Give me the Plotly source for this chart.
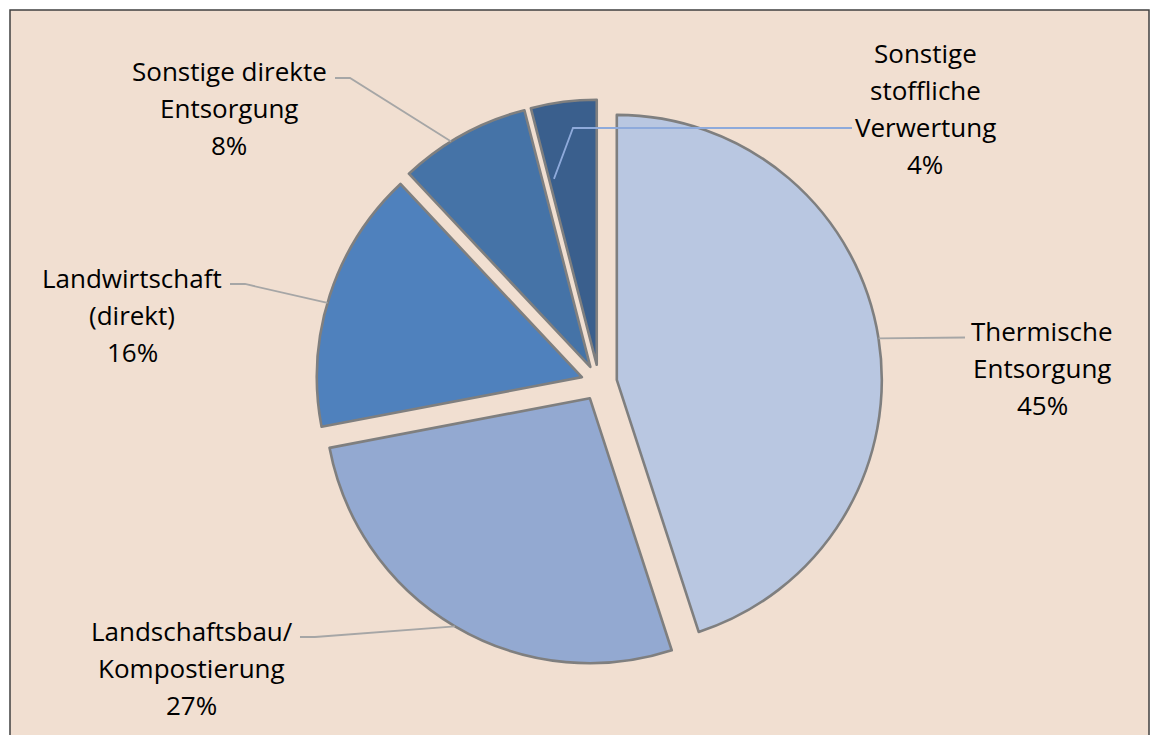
import math
import plotly.graph_objects as go

# ---- data ----
categories = ["Thermische Entsorgung", "Landschaftsbau/ Kompostierung",
              "Landwirtschaft (direkt)", "Sonstige direkte Entsorgung",
              "Sonstige stoffliche Verwertung"]
label_lines = [["Thermische", "Entsorgung"],
               ["Landschaftsbau/", "Kompostierung"],
               ["Landwirtschaft", "(direkt)"],
               ["Sonstige direkte", "Entsorgung"],
               ["Sonstige", "stoffliche", "Verwertung"]]
shares = [45, 27, 16, 8, 4]
colors = ["#B9C7E1", "#93A9D1", "#4F81BD", "#4573A7", "#3A5F8D"]

# ---- layout ----
W, H = 1159, 735
PULL = 0.068
cx, cy = 599.0, 382.7          # pie centre in px
R = 265.0                      # pie radius in px
half = R * (1 + PULL)

BG = "#F1DFD1"
FONT = "Open Sans"
FS = 26
LINE_GAP = 37

# label block: centre x, y of first line, leader elbow (px), leader colour,
# anchor (fraction within slice, radial fraction)
label_layout = [
    dict(x=1042, y=331, elbow=[(965, 337.5)], color="#A6A6A6", anchor=(0.5, 1.0)),
    dict(x=192, y=631, elbow=[(300, 637), (315, 637)], color="#A6A6A6", anchor=(0.5, 1.0)),
    dict(x=132, y=278, elbow=[(230, 284), (245, 284)], color="#A6A6A6", anchor=(0.47, 1.0)),
    dict(x=229, y=71, elbow=[(335, 78), (350, 78)], color="#A6A6A6", anchor=(0.4, 1.0)),
    dict(x=925, y=53, elbow=[(852, 128), (573, 128)], color="#8EAADB", anchor=(0.1, 0.72)),
]


def px(x):
    return x / W


def py(y):
    return 1 - y / H


fig = go.Figure(go.Pie(
    values=shares,
    labels=categories,
    sort=False,
    direction="clockwise",
    rotation=0,
    pull=[PULL] * len(shares),
    marker=dict(colors=colors, line=dict(color="#7F7F7F", width=2.6)),
    textinfo="none",
    hoverinfo="none",
    showlegend=False,
    domain=dict(x=[px(cx - half), px(cx + half)], y=[py(cy + half), py(cy - half)]),
))

shapes = [dict(type="rect", xref="paper", yref="paper",
               x0=px(10), x1=px(1149), y0=-0.05, y1=py(10),
               fillcolor=BG, line=dict(color="#404040", width=1.5), layer="below")]
annotations = []

total = sum(shares)
cum = 0.0
for i, v in enumerate(shares):
    start = cum / total * 360
    end = (cum + v) / total * 360
    mid = (start + end) / 2
    cum += v
    lay = label_layout[i]
    # slice offset from pull
    off = PULL * R
    scx = cx + off * math.sin(math.radians(mid))
    scy = cy - off * math.cos(math.radians(mid))
    fa, fr = lay["anchor"]
    ang = start + fa * (end - start)
    ax_ = scx + fr * R * math.sin(math.radians(ang))
    ay_ = scy - fr * R * math.cos(math.radians(ang))
    pts = lay["elbow"] + [(ax_, ay_)]
    path = "M " + " L ".join(f"{px(x):.5f},{py(y):.5f}" for x, y in pts)
    shapes.append(dict(type="path", xref="paper", yref="paper", path=path,
                       line=dict(color=lay["color"], width=1.8)))
    lines = label_lines[i] + [f"{v}%"]
    for k, t in enumerate(lines):
        annotations.append(dict(x=px(lay["x"]), y=py(lay["y"] + k * LINE_GAP),
                                xref="paper", yref="paper", text=t, showarrow=False,
                                xanchor="center", yanchor="middle",
                                font=dict(family=FONT, size=FS, color="#000000")))

fig.update_layout(
    width=W, height=H,
    margin=dict(l=0, r=0, t=0, b=0),
    paper_bgcolor="#FFFFFF",
    plot_bgcolor="#FFFFFF",
    shapes=shapes,
    annotations=annotations,
    hovermode=False,
)

fig.write_html("out.html", config={"displayModeBar": False},
               post_script="document.body.style.margin='0';document.body.style.overflow='hidden';")
